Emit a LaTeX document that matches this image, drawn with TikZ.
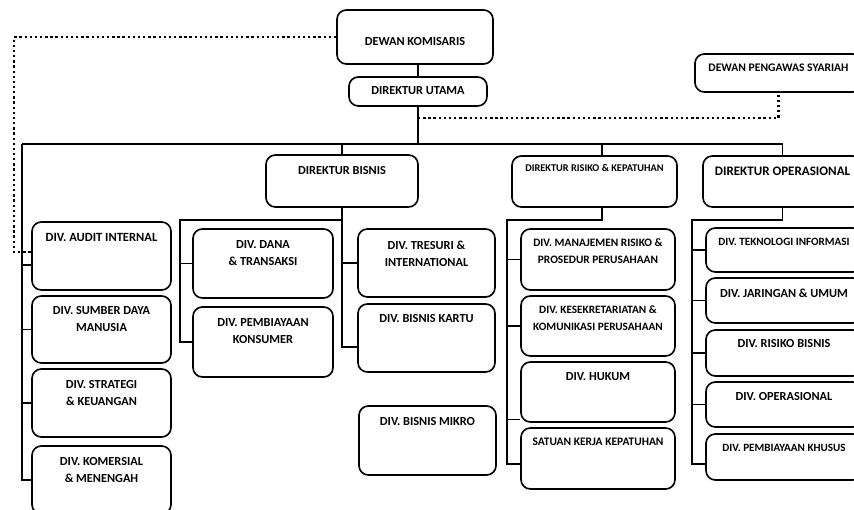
\documentclass[tikz,border=0pt]{standalone}
\usepackage{fontspec}
\setmainfont{Carlito}
\usetikzlibrary{fit}

\tikzset{
  box/.style={draw, rounded corners=8pt, line width=1.4pt, inner sep=0pt},
  txt/.style={font=\bfseries\fontsize{#1}{14.5pt}\selectfont, align=center, inner sep=0pt},
  txt/.default=10.5,
  conn/.style={line width=0.9pt},
  dotline/.style={line width=2pt, dash pattern=on 2pt off 2.4pt},
}

\begin{document}
\begin{tikzpicture}[x=0.03cm, y=-0.03cm]
    \useasboundingbox (0,0) rectangle (854,510);
    \clip (0,0) rectangle (854,510);

    % boxes
    \foreach \nm/\xa/\ya/\xb/\yb in {dk/337/10/493/64, du/349/77/487/106,
        dps/695/54/862/92, db/266/155/418/207, drk/512/156/677/207,
        dop/703/156/862/207, aud/32/222/171/290, sdm/32/296/171/363,
        str/32/369/171/437, kom/32/446/171/514, dan/193/229/333/298,
        kon/193/307/333/377, tre/358/229/495/297, kar/358/304/495/372,
        mik/359/406/496/475, mrp/521/229/675/290, kes/521/296/675/356,
        huk/521/362/675/422, skk/521/428/675/489, tek/706/228/862/272,
        jar/706/278/862/323, rbs/706/330/862/376, ops/706/382/862/427,
        pbk/706/434/862/480}{%
        \node[box, fit={(\xa,\ya) (\xb,\yb)}] (\nm) {};
    }

    % labels
    \foreach \nm/\ty/\fs/\txt in {dk/42/10.5/DEWAN KOMISARIS,
        du/91/10.5/DIREKTUR UTAMA,
        dps/68/9.9/DEWAN PENGAWAS SYARIAH,
        db/171/10.5/DIREKTUR BISNIS,
        drk/168/8.8/DIREKTUR RISIKO \& KEPATUHAN,
        dop/171/11.1/DIREKTUR OPERASIONAL,
        aud/237/10.7/DIV. AUDIT INTERNAL,
        sdm/319.5/10.5/{DIV. SUMBER DAYA\\MANUSIA},
        str/393.5/10.5/{DIV. STRATEGI\\\& KEUANGAN},
        kom/470/10.5/{DIV. KOMERSIAL\\\& MENENGAH},
        dan/253.5/10.5/{DIV. DANA\\\& TRANSAKSI},
        kon/331/10.5/{DIV. PEMBIAYAAN\\KONSUMER},
        tre/253.5/10.5/{DIV. TRESURI \&\\INTERNATIONAL},
        kar/319/10.5/DIV. BISNIS KARTU,
        mik/422/10.5/DIV. BISNIS MIKRO,
        mrp/251/9.7/{DIV. MANAJEMEN RISIKO \&\\PROSEDUR PERUSAHAAN},
        kes/318/9.6/{DIV. KESEKRETARIATAN \&\\KOMUNIKASI PERUSAHAAN},
        huk/377/10.5/DIV. HUKUM,
        skk/442/9.8/SATUAN KERJA KEPATUHAN,
        tek/242/9.5/DIV. TEKNOLOGI INFORMASI,
        jar/293/10.5/DIV. JARINGAN \& UMUM,
        rbs/344/10.5/DIV. RISIKO BISNIS,
        ops/397/10.5/DIV. OPERASIONAL,
        pbk/448/9.5/DIV. PEMBIAYAAN KHUSUS}{%
        \node[txt=\fs] (\nm-t) at (\nm.center |- 0,\ty) {\txt};
    }

    % junctions
    \coordinate (bus-l) at (22,144);
    \coordinate (bis-l) at (180,220);
    \coordinate (rk-l) at (507,220);
    \coordinate (op-l) at (692,220);
    \coordinate (syr-j) at (418,118);
    \coordinate (aud-d) at (14,252);
    \coordinate (aud-j) at ([yshift=-0.27cm]aud.west);
    \coordinate (kar-j) at ([yshift=-0.27cm]kar.west);
    \coordinate (huk-j) at ([yshift=0.09cm]huk.south west);
    \coordinate (skk-j) at ([yshift=-0.165cm]skk.west);
    \coordinate (pbk-j) at ([yshift=-0.21cm]pbk.west);
    \coordinate (drk-n) at ([xshift=0.225cm]drk.north);
    \coordinate (drk-s) at ([xshift=0.225cm]drk.south);

    % top
    \draw[conn] (dk.south -| du.north) -- (du.north);
    \draw[conn] (du.south) -- (du.south |- bus-l);
    \draw[conn] (bus-l) -- (bus-l -| dop.north) -- (dop.north);
    \draw[conn] (db.north |- bus-l) -- (db.north);
    \draw[conn] (drk-n |- bus-l) -- (drk-n);

    % left column
    \draw[conn] (bus-l) |- (kom.west);
    \draw[conn] (bus-l |- aud-j) -- (aud-j);
    \foreach \n in {sdm,str}
        \draw[conn] (bus-l |- \n.west) -- (\n.west);

    % bisnis
    \draw[conn] (db.south) -- (db.south |- bis-l) -- (bis-l) |- (kon.west);
    \draw[conn] (bis-l |- dan.west) -- (dan.west);
    \draw[conn] (db.south |- bis-l) |- (kar-j);
    \draw[conn] (db.south |- tre.west) -- (tre.west);

    % risiko & kepatuhan
    \draw[conn] (drk-s) |- (rk-l) |- (skk-j);
    \foreach \n in {mrp,kes}
        \draw[conn] (rk-l |- \n.west) -- (\n.west);
    \draw[conn] (rk-l |- huk-j) -- (huk-j);

    % operasional
    \draw[conn] (dop.south) |- (op-l) |- (pbk-j);
    \foreach \n in {tek,jar,rbs,ops}
        \draw[conn] (op-l |- \n.west) -- (\n.west);

    % dotted
    \draw[dotline] (dk.west) -| (aud-d) -- (aud-d -| aud.west);
    \draw[dotline] (syr-j) -| (dps.south);
\end{tikzpicture}
\end{document}
